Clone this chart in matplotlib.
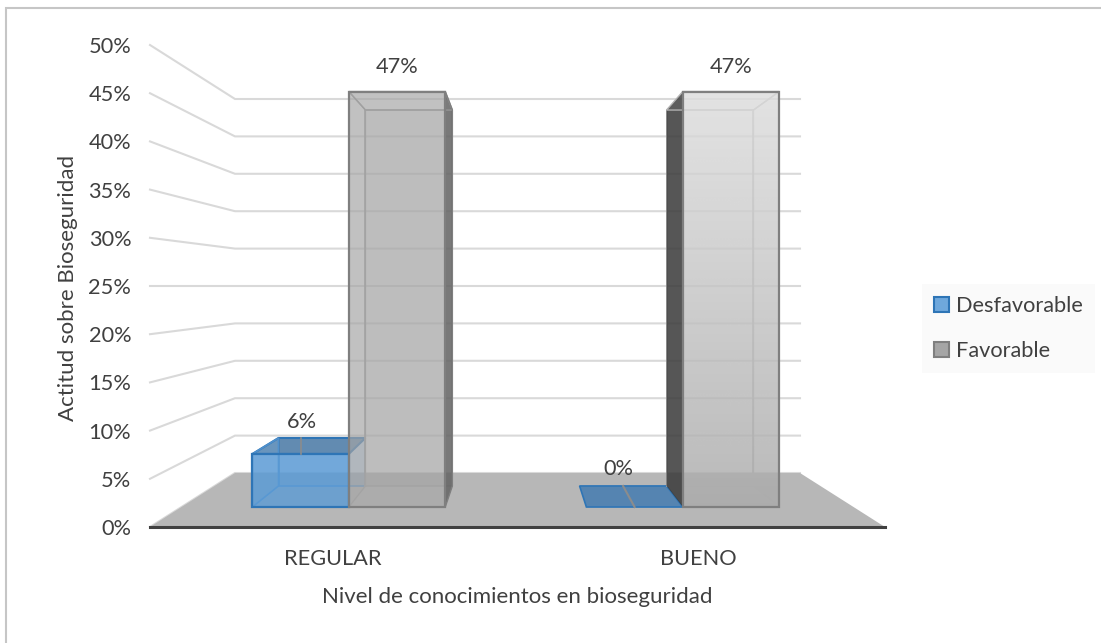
import numpy as np
import matplotlib
matplotlib.use("Agg")
import matplotlib.pyplot as plt
from matplotlib.lines import Line2D
from matplotlib.patches import Patch, Polygon

plt.rcParams['font.family'] = ['Lato', 'DejaVu Sans']

# data
categories = ["REGULAR", "BUENO"]
series_names = ["Desfavorable", "Favorable"]
desfavorable = [6, 0]
favorable = [47, 47]
y_ticks = [0, 5, 10, 15, 20, 25, 30, 35, 40, 45, 50]

TEXT = "#404040"
GRID = "#d9d9d9"
FLOOR = "#b7b7b7"
BLUE = "#5b9bd5"
BLUE_EDGE = "#2e75b6"
GREY = "#a5a5a5"
GREY_EDGE = "#7f7f7f"
FONT = 15.7

W, H = 1101, 643
# axes box in pixels: front plane of the 3d chart
LEFT, RIGHT, BOTTOM, TOP = 150, 885, 527, 45
DX, DY = 85, 54          # how far the back wall sits inside the front plane

# bar depth and width, as fractions of the floor
Z_FRONT, Z_BACK = 0.37, 0.76
GROUP_CENTRES = [0.249, 0.746]
BAR_W = 0.1435


def project(u, v, z):
    """u across the floor (0-1), v in percent, z depth (0 front, 1 back)"""
    x = DX * z / (RIGHT - LEFT) + u * (1 - 2 * DX * z / (RIGHT - LEFT))
    lift = DY * z / (BOTTOM - TOP) * 50
    y = lift + v * (1 - 2 * DY * z / (BOTTOM - TOP))
    return x, y


def face(ax, pts, color, alpha, zorder, edge=None, lw=0):
    ax.add_patch(Polygon(pts, closed=True, facecolor=color, alpha=alpha,
                         edgecolor="none", zorder=zorder))
    if edge:
        ax.add_patch(Polygon(pts, closed=True, fill=False, edgecolor=edge,
                             lw=lw, zorder=zorder + 0.1, joinstyle="miter"))


def box_corners(u0, u1, v):
    c = {}
    for name, u, val, z in [("fbl", u0, 0, Z_FRONT), ("fbr", u1, 0, Z_FRONT),
                            ("ftl", u0, v, Z_FRONT), ("ftr", u1, v, Z_FRONT),
                            ("bbl", u0, 0, Z_BACK), ("bbr", u1, 0, Z_BACK),
                            ("btl", u0, v, Z_BACK), ("btr", u1, v, Z_BACK)]:
        c[name] = project(u, val, z)
    return c


fig = plt.figure(figsize=(W / 100, H / 100), dpi=100, facecolor="white")

# outer frame of the chart: only the top and left edges are in the picture
fig.add_artist(Line2D([6.5 / W, 6.5 / W, 1], [0, 1 - 8 / H, 1 - 8 / H],
                      transform=fig.transFigure, color="#c6c6c6", lw=1.5,
                      solid_joinstyle="miter"))

ax = fig.add_axes([LEFT / W, 1 - BOTTOM / H, (RIGHT - LEFT) / W, (BOTTOM - TOP) / H])
ax.set_xlim(0, 1)
ax.set_ylim(0, 50)
ax.patch.set_visible(False)
for s in ["top", "right", "left"]:
    ax.spines[s].set_visible(False)
ax.spines["bottom"].set_color("#404040")
ax.spines["bottom"].set_linewidth(2.2)
ax.spines["bottom"].set_zorder(30)

ax.set_yticks(y_ticks)
ax.set_yticklabels([f"{t}%" for t in y_ticks], fontsize=FONT, color=TEXT)
ax.set_xticks(GROUP_CENTRES)
ax.set_xticklabels(categories, fontsize=FONT, color=TEXT)
ax.tick_params(axis="both", length=0)
ax.tick_params(axis="y", pad=13.5)
ax.tick_params(axis="x", pad=15.6)

ax.text(-0.111, 24.85, "Actitud sobre Bioseguridad", rotation=90, ha="center", va="center",
        fontsize=16, color=TEXT)
ax.text(0.5, -7.3, "Nivel de conocimientos en bioseguridad", ha="center", va="center",
        fontsize=16, color=TEXT)

# walls
for t in y_ticks:
    x0, y0 = project(0, t, 0)
    x1, y1 = project(0, t, 1)
    x2, y2 = project(1, t, 1)
    ax.plot([x0, x1, x2], [y0, y1, y2], color=GRID, lw=1.5, zorder=1,
            solid_joinstyle="miter", clip_on=False)

# floor
face(ax, [project(0, 0, 0), project(0, 0, 1), project(1, 0, 1), project(1, 0, 0)], FLOOR, 1, 2)

# Desfavorable bars
for centre, v in zip(GROUP_CENTRES, desfavorable):
    c = box_corners(centre - BAR_W, centre, v)
    if v > 0:
        face(ax, [c["bbl"], c["bbr"], c["btr"], c["btl"]], BLUE, 0.3, 3, "#4f90cc", 1.2)
        face(ax, [c["btl"], c["btr"], c["ftr"], c["ftl"]], "#3f6f9c", 0.75, 4, BLUE_EDGE, 1.5)
        face(ax, [c["fbl"], c["bbl"], c["btl"], c["ftl"]], BLUE, 0.25, 4, "#4f90cc", 1.2)
        face(ax, [c["fbl"], c["fbr"], c["ftr"], c["ftl"]], BLUE, 0.8, 5, BLUE_EDGE, 1.6)
        # small leader line to the data label
        xl, yl = project(centre - BAR_W / 2, v, Z_FRONT)
        ax.plot([xl, xl], [yl, project(centre - BAR_W / 2, v, Z_BACK)[1]],
                color="#8c8c8c", lw=1.2, zorder=6)
    else:
        face(ax, [c["fbl"], c["fbr"], c["bbr"], c["bbl"]], "#3d78b0", 0.8, 3, BLUE_EDGE, 1.2)
        xa, ya = project(centre - BAR_W / 2, v, Z_FRONT)
        xb, yb = project(centre - BAR_W / 2, v, Z_BACK)
        ax.plot([xa, xb], [ya, yb], color="#8c8c8c", lw=1.5, zorder=6)

# Favorable, REGULAR: flat grey
c = box_corners(GROUP_CENTRES[0], GROUP_CENTRES[0] + BAR_W, favorable[0])
face(ax, [c["bbl"], c["bbr"], c["btr"], c["btl"]], GREY, 0.3, 7, "#a2a2a2", 1.2)
face(ax, [c["fbl"], c["bbl"], c["btl"], c["ftl"]], GREY, 0.2, 8, "#a2a2a2", 1.0)
face(ax, [c["btl"], c["btr"], c["ftr"], c["ftl"]], GREY, 0.2, 8, "#9a9a9a", 1.0)
face(ax, [c["fbr"], c["bbr"], c["btr"], c["ftr"]], "#5f5f5f", 0.8, 8, GREY_EDGE, 1.0)
face(ax, [c["fbl"], c["fbr"], c["ftr"], c["ftl"]], GREY, 0.6, 9, GREY_EDGE, 1.6)

# Favorable, BUENO: lighter with a vertical gradient on the front
c = box_corners(GROUP_CENTRES[1], GROUP_CENTRES[1] + BAR_W, favorable[1])
face(ax, [c["bbl"], c["bbr"], c["btr"], c["btl"]], GREY, 0.08, 7, "#b4b4b4", 1.2)
face(ax, [c["fbl"], c["bbl"], c["btl"], c["ftl"]], "#3a3a3a", 0.85, 8)
face(ax, [c["fbr"], c["bbr"], c["btr"], c["ftr"]], GREY, 0.08, 8, "#b4b4b4", 1.0)
face(ax, [c["btl"], c["btr"], c["ftr"], c["ftl"]], GREY, 0.08, 8, "#b4b4b4", 1.0)
ramp = np.zeros((64, 1, 4))
ramp[:, 0, :3] = np.linspace(0.87, 0.67, 64)[:, None]
ramp[:, 0, 3] = 0.8
ax.imshow(ramp, extent=[c["fbl"][0], c["fbr"][0], c["fbl"][1], c["ftl"][1]],
          aspect="auto", origin="upper", zorder=9, interpolation="bilinear")
ax.set_xlim(0, 1)
ax.set_ylim(0, 50)
ax.add_patch(Polygon([c["fbl"], c["fbr"], c["ftr"], c["ftl"]], closed=True, fill=False,
                     edgecolor=GREY_EDGE, lw=1.6, zorder=9.5))

# data labels
for centre, v, off in zip(GROUP_CENTRES, desfavorable, [(0.7, 11.7), (-12, 27.4)]):
    x, y = project(centre - BAR_W / 2, v, Z_BACK if v else Z_FRONT)
    ax.annotate(f"{v}%", (x if v == 0 else project(centre - BAR_W / 2, v, Z_FRONT)[0], y), xytext=off,
                textcoords="offset points", ha="center", va="center",
                fontsize=FONT, color=TEXT, zorder=20)
for centre, v in zip(GROUP_CENTRES, favorable):
    x, y = project(centre + BAR_W / 2, v, Z_FRONT)
    ax.annotate(f"{v}%", (x, y), xytext=(0, 17.5), textcoords="offset points",
                ha="center", va="center", fontsize=FONT, color=TEXT, zorder=20)

# legend
handles = [Patch(facecolor="#6fa8dc", edgecolor=BLUE_EDGE, lw=1.5),
           Patch(facecolor=GREY, edgecolor=GREY_EDGE, lw=1.5)]
leg = fig.legend(handles, series_names, loc="center left",
                 bbox_to_anchor=(922 / W, 1 - 328.5 / H), frameon=True, facecolor="#fafafa",
                 edgecolor="none", framealpha=1, fancybox=False, fontsize=FONT,
                 labelcolor=TEXT, handlelength=0.69, handleheight=0.69, handletextpad=0.32,
                 labelspacing=1.15, borderaxespad=0, borderpad=0.55)

fig.savefig("out.png", dpi=100)
